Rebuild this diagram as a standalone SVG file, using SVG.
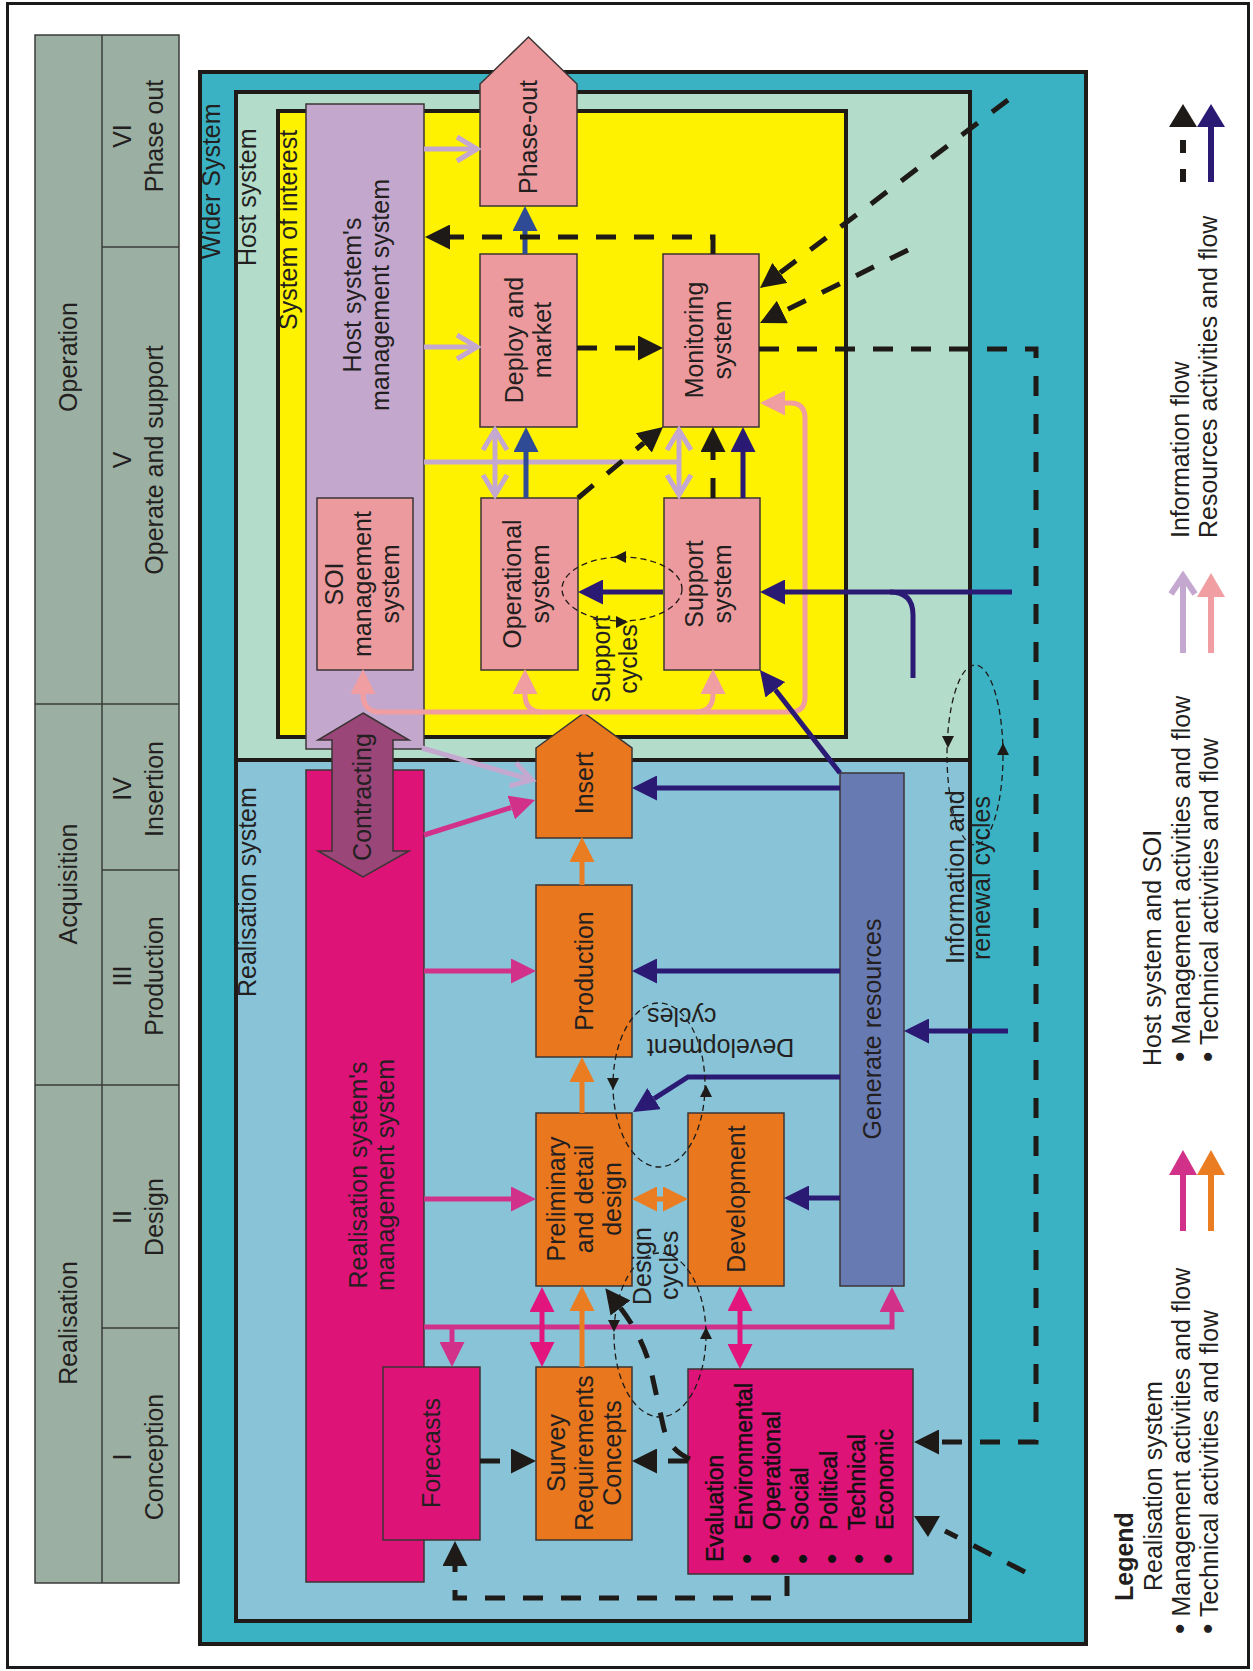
<svg xmlns="http://www.w3.org/2000/svg" width="1253" height="1671" viewBox="0 0 1253 1671">
<defs>
<style>
text{font-family:"Liberation Sans",Arial,sans-serif;font-size:25px;fill:#231f20}
.m{text-anchor:middle}
.e{text-anchor:end}
.b{font-weight:bold}
.ev{font-size:23px;fill:#111;stroke:#111;stroke-width:0.5}
.dot{font-size:30px;fill:#111}
.frame{stroke:#1e1a17;stroke-width:4}
.box{stroke:#3b3535;stroke-width:1.5}
.pk{fill:#ec9a9d}
.or{fill:#e8771e}
.mg{fill:#de1378}
.cell{fill:none;stroke:#3b3b3b;stroke-width:1.5}
.lav{stroke:#c4a8d0;stroke-width:5;fill:none}
.sal{stroke:#f09ea1;stroke-width:5;fill:none}
.blu{stroke:#2f4b95;stroke-width:5;fill:none}
.nav{stroke:#2a1a74;stroke-width:5;fill:none}
.inf{stroke:#1e1a17;stroke-width:5;stroke-dasharray:20 18;fill:none}
.mgt{stroke:#d2318a;stroke-width:5;fill:none}
.mg2{stroke:#e2157c;stroke-width:5;fill:none}
.tec{stroke:#ea7c22;stroke-width:5;fill:none}
.cyc{stroke:#1e1a17;stroke-width:1.3;stroke-dasharray:6 4;fill:none}
.tip{fill:#1e1a17}
</style>
<marker id="aNav" viewBox="0 0 25 25" refX="0" refY="12.5" markerWidth="25" markerHeight="25" markerUnits="userSpaceOnUse" orient="auto-start-reverse"><path d="M0,0L25,12.5L0,25z" fill="#2a1a74"/></marker>
<marker id="aBlu" viewBox="0 0 25 25" refX="0" refY="12.5" markerWidth="25" markerHeight="25" markerUnits="userSpaceOnUse" orient="auto-start-reverse"><path d="M0,0L25,12.5L0,25z" fill="#2f4b95"/></marker>
<marker id="aBlk" viewBox="0 0 25 25" refX="0" refY="12.5" markerWidth="25" markerHeight="25" markerUnits="userSpaceOnUse" orient="auto-start-reverse"><path d="M0,0L25,12.5L0,25z" fill="#1e1a17"/></marker>
<marker id="aMgt" viewBox="0 0 25 25" refX="0" refY="12.5" markerWidth="25" markerHeight="25" markerUnits="userSpaceOnUse" orient="auto-start-reverse"><path d="M0,0L25,12.5L0,25z" fill="#d2318a"/></marker>
<marker id="aMg2" viewBox="0 0 25 25" refX="0" refY="12.5" markerWidth="25" markerHeight="25" markerUnits="userSpaceOnUse" orient="auto-start-reverse"><path d="M0,0L25,12.5L0,25z" fill="#e2157c"/></marker>
<marker id="aTec" viewBox="0 0 25 25" refX="0" refY="12.5" markerWidth="25" markerHeight="25" markerUnits="userSpaceOnUse" orient="auto-start-reverse"><path d="M0,0L25,12.5L0,25z" fill="#ea7c22"/></marker>
<marker id="aSal" viewBox="0 0 25 25" refX="0" refY="12.5" markerWidth="25" markerHeight="25" markerUnits="userSpaceOnUse" orient="auto-start-reverse"><path d="M0,0L25,12.5L0,25z" fill="#f09ea1"/></marker>
<marker id="aLav" viewBox="0 0 24 26" refX="21" refY="13" markerWidth="24" markerHeight="26" markerUnits="userSpaceOnUse" orient="auto-start-reverse" overflow="visible"><path d="M1,1L21,13L1,25" fill="none" stroke="#c4a8d0" stroke-width="5"/></marker>
</defs>

<rect x="0" y="0" width="1253" height="1671" fill="#ffffff"/>
<rect x="7.5" y="3.5" width="1241" height="1664" fill="none" stroke="#1a1a1a" stroke-width="3"/>

<!-- life-cycle phase table -->
<g id="phase-table">
<rect x="35" y="35" width="144" height="1548" fill="#9bb0a2" stroke="#3b3b3b" stroke-width="1.5"/>
<path class="cell" d="M102,35V1583M35,704H179M35,1085H179M102,247H179M102,870H179M102,1328H179"/>
<text class="m" transform="translate(77,357) rotate(-90)">Operation</text>
<text class="m" transform="translate(77,884) rotate(-90)">Acquisition</text>
<text class="m" transform="translate(77,1323) rotate(-90)">Realisation</text>
<text class="m" transform="translate(131,136) rotate(-90)">VI</text>
<text class="m" transform="translate(163,136) rotate(-90)">Phase out</text>
<text class="m" transform="translate(131,460) rotate(-90)">V</text>
<text class="m" transform="translate(163,460) rotate(-90)">Operate and support</text>
<text class="m" transform="translate(131,789) rotate(-90)">IV</text>
<text class="m" transform="translate(163,789) rotate(-90)">Insertion</text>
<text class="m" transform="translate(131,976) rotate(-90)">III</text>
<text class="m" transform="translate(163,976) rotate(-90)">Production</text>
<text class="m" transform="translate(131,1217) rotate(-90)">II</text>
<text class="m" transform="translate(163,1217) rotate(-90)">Design</text>
<text class="m" transform="translate(131,1457) rotate(-90)">I</text>
<text class="m" transform="translate(163,1457) rotate(-90)">Conception</text>
</g>

<!-- nested system boundaries -->
<g id="wider-system">
<rect class="frame" x="200" y="72" width="886" height="1572" fill="#3ab2c4"/>
<text transform="translate(220,259) rotate(-90)">Wider System</text>
</g>
<g id="host-system">
<rect class="frame" x="236" y="92" width="734" height="668" fill="#b4dccb"/>
<text transform="translate(256,266) rotate(-90)">Host system</text>
</g>
<g id="realisation-system">
<rect class="frame" x="236" y="760" width="734" height="861" fill="#88c3d7"/>
<text transform="translate(256,997) rotate(-90)">Realisation system</text>
</g>
<g id="system-of-interest">
<rect class="frame" x="278" y="111" width="568" height="626" fill="#fff200"/>
<text transform="translate(297,330) rotate(-90)">System of interest</text>
</g>

<!-- host system nodes -->
<g id="host-mgmt">
<rect class="box" x="306" y="104" width="118" height="645" fill="#c3a7cd"/>
<text class="m" transform="translate(361,295) rotate(-90)">Host system's</text>
<text class="m" transform="translate(389,295) rotate(-90)">management system</text>
</g>
<g id="soi-mgmt">
<rect class="box pk" x="317" y="498" width="96" height="172"/>
<text class="m" transform="translate(343,584) rotate(-90)">SOI</text>
<text class="m" transform="translate(371,584) rotate(-90)">management</text>
<text class="m" transform="translate(399,584) rotate(-90)">system</text>
</g>
<g id="phase-out">
<polygon class="box pk" points="480,84 528.5,37 577,84 577,206 480,206"/>
<text class="m" transform="translate(537,137) rotate(-90)">Phase-out</text>
</g>
<g id="deploy">
<rect class="box pk" x="480" y="254" width="97" height="173"/>
<text class="m" transform="translate(523,340) rotate(-90)">Deploy and</text>
<text class="m" transform="translate(551,340) rotate(-90)">market</text>
</g>
<g id="monitoring">
<rect class="box pk" x="663" y="254" width="96" height="173"/>
<text class="m" transform="translate(703,340) rotate(-90)">Monitoring</text>
<text class="m" transform="translate(731,340) rotate(-90)">system</text>
</g>
<g id="operational">
<rect class="box pk" x="481" y="498" width="97" height="172"/>
<text class="m" transform="translate(521,584) rotate(-90)">Operational</text>
<text class="m" transform="translate(549,584) rotate(-90)">system</text>
</g>
<g id="support">
<rect class="box pk" x="664" y="498" width="96" height="172"/>
<text class="m" transform="translate(703,584) rotate(-90)">Support</text>
<text class="m" transform="translate(731,584) rotate(-90)">system</text>
</g>

<!-- realisation system nodes -->
<g id="realisation-mgmt">
<rect class="box mg" x="306" y="770" width="118" height="812"/>
<text class="m" transform="translate(367,1175) rotate(-90)">Realisation system's</text>
<text class="m" transform="translate(394,1175) rotate(-90)">management system</text>
</g>
<g id="contracting">
<polygon class="box" fill="#9a4679" points="363,713 409,740 393,740 393,851 409,851 363,877 318,851 332,851 332,740 318,740"/>
<text class="m" transform="translate(371,797) rotate(-90)">Contracting</text>
</g>
<g id="insert">
<polygon class="box or" points="536,748 584,713 632,748 632,838 536,838"/>
<text class="m" transform="translate(593,783) rotate(-90)">Insert</text>
</g>
<g id="production">
<rect class="box or" x="536" y="885" width="96" height="172"/>
<text class="m" transform="translate(593,971) rotate(-90)">Production</text>
</g>
<g id="preliminary-design">
<rect class="box or" x="536" y="1113" width="96" height="173"/>
<text class="m" transform="translate(565,1199) rotate(-90)">Preliminary</text>
<text class="m" transform="translate(593,1199) rotate(-90)">and detail</text>
<text class="m" transform="translate(621,1199) rotate(-90)">design</text>
</g>
<g id="development">
<rect class="box or" x="688" y="1113" width="96" height="173"/>
<text class="m" transform="translate(745,1199) rotate(-90)">Development</text>
</g>
<g id="generate-resources">
<rect class="box" fill="#677ab2" x="840" y="773" width="64" height="513"/>
<text class="m" transform="translate(881,1029) rotate(-90)">Generate resources</text>
</g>
<g id="forecasts">
<rect class="box mg" x="383" y="1367" width="97" height="173"/>
<text class="m" transform="translate(440,1453) rotate(-90)">Forecasts</text>
</g>
<g id="survey">
<rect class="box or" x="536" y="1367" width="96" height="173"/>
<text class="m" transform="translate(565,1453) rotate(-90)">Survey</text>
<text class="m" transform="translate(593,1453) rotate(-90)">Requirements</text>
<text class="m" transform="translate(621,1453) rotate(-90)">Concepts</text>
</g>
<g id="evaluation">
<rect class="box mg" x="688" y="1369" width="225" height="205"/>
<text class="ev" transform="translate(723,1562) rotate(-90)">Evaluation</text>
<text class="ev" transform="translate(751.5,1530) rotate(-90)">Environmental</text>
<text class="ev" transform="translate(780,1530) rotate(-90)">Operational</text>
<text class="ev" transform="translate(808,1530) rotate(-90)">Social</text>
<text class="ev" transform="translate(836.5,1530) rotate(-90)">Political</text>
<text class="ev" transform="translate(865,1530) rotate(-90)">Technical</text>
<text class="ev" transform="translate(893,1530) rotate(-90)">Economic</text>
<text class="dot" transform="translate(757,1564) rotate(-90)">•</text>
<text class="dot" transform="translate(785,1564) rotate(-90)">•</text>
<text class="dot" transform="translate(813,1564) rotate(-90)">•</text>
<text class="dot" transform="translate(842,1564) rotate(-90)">•</text>
<text class="dot" transform="translate(869,1564) rotate(-90)">•</text>
<text class="dot" transform="translate(898,1564) rotate(-90)">•</text>
</g>

<!-- flows between the nodes -->
<g id="connectors">
<!-- host system management (lavender, open heads) -->
<path class="lav" marker-end="url(#aLav)" d="M424,149H477"/>
<path class="lav" marker-end="url(#aLav)" d="M424,347H477"/>
<path class="lav" d="M424,462H681"/>
<path class="lav" marker-start="url(#aLav)" marker-end="url(#aLav)" d="M495,430V495"/>
<path class="lav" marker-start="url(#aLav)" marker-end="url(#aLav)" d="M679,430V495"/>
<path class="lav" marker-end="url(#aLav)" d="M422,748L532,780"/>
<!-- host technical flow (salmon) -->
<path class="sal" marker-start="url(#aSal)" marker-end="url(#aSal)" d="M363,694Q363,712 380,712H790Q805,712 805,697V418Q805,403 790,403H785"/>
<path class="sal" marker-start="url(#aSal)" d="M525,694Q525,712 542,712"/>
<path class="sal" marker-start="url(#aSal)" d="M713,694Q713,712 696,712"/>
<!-- resources -->
<path class="blu" marker-end="url(#aBlu)" d="M525,254V231"/>
<path class="blu" marker-end="url(#aBlu)" d="M526,498V452"/>
<path class="nav" marker-end="url(#aNav)" d="M743,498V452"/>
<path class="nav" marker-end="url(#aNav)" d="M1012,592H785"/>
<path class="nav" d="M890,592Q913,592 913,615V678"/>
<path class="nav" marker-end="url(#aNav)" d="M663,592H603"/>
<path class="nav" marker-end="url(#aNav)" d="M840,773L775.3,689.8"/>
<path class="nav" marker-end="url(#aNav)" d="M840,788H657"/>
<path class="nav" marker-end="url(#aNav)" d="M840,971H657"/>
<path class="nav" marker-end="url(#aNav)" d="M840,1077H688L654.1,1098.6"/>
<path class="nav" marker-end="url(#aNav)" d="M840,1198H809"/>
<path class="nav" marker-end="url(#aNav)" d="M1008,1031H929"/>
<!-- information flow -->
<path class="inf" marker-end="url(#aBlk)" d="M713,254V237H450"/>
<path class="inf" marker-end="url(#aBlk)" d="M577,348H638"/>
<path class="inf" marker-end="url(#aBlk)" d="M1008,100L779.9,272.9"/>
<path class="inf" marker-end="url(#aBlk)" d="M908,250L782.4,312"/>
<path class="inf" marker-end="url(#aBlk)" d="M759,349H1036V1442H939"/>
<path class="inf" marker-end="url(#aBlk)" d="M713,498V452"/>
<path class="inf" marker-end="url(#aBlk)" d="M578,498L643.8,443"/>
<path class="inf" marker-end="url(#aBlk)" d="M480,1461H511"/>
<path class="inf" marker-end="url(#aBlk)" d="M688,1461H657"/>
<path class="inf" marker-end="url(#aBlk)" d="M690,1459Q668,1450 663,1425L652,1375Q645,1340 620.5,1308"/>
<path class="inf" marker-end="url(#aBlk)" d="M787,1576V1598H455V1566"/>
<path class="inf" d="M1025,1572L945,1531"/>
<polygon class="tip" points="914,1516 940,1516 928,1537"/>
<!-- realisation management flow (magenta) -->
<path class="mgt" marker-end="url(#aMgt)" d="M424,835L511.2,807.5"/>
<path class="mgt" marker-end="url(#aMgt)" d="M424,971H511"/>
<path class="mgt" marker-end="url(#aMgt)" d="M424,1199H511"/>
<path class="mgt" marker-end="url(#aMgt)" d="M424,1327H892V1312"/>
<path class="mgt" marker-end="url(#aMgt)" d="M452,1327V1342"/>
<path class="mg2" marker-start="url(#aMg2)" marker-end="url(#aMg2)" d="M542,1312V1342"/>
<path class="mg2" marker-start="url(#aMg2)" marker-end="url(#aMg2)" d="M740,1311V1344"/>
<!-- realisation technical flow (orange) -->
<path class="tec" marker-end="url(#aTec)" d="M582,885V862"/>
<path class="tec" marker-end="url(#aTec)" d="M582,1113V1082"/>
<path class="tec" marker-end="url(#aTec)" d="M582,1367V1311"/>
<path class="tec" marker-start="url(#aTec)" marker-end="url(#aTec)" d="M657,1199H663"/>
</g>

<!-- iteration cycles -->
<g id="support-cycles">
<ellipse class="cyc" cx="622" cy="589" rx="60" ry="32"/>
<polygon class="tip" points="614,557 626,551 626,563"/>
<polygon class="tip" points="628,622 616,616 616,628"/>
<text class="m" transform="translate(610,659) rotate(-90)">Support</text>
<text class="m" transform="translate(637,659) rotate(-90)">cycles</text>
</g>
<g id="development-cycles">
<ellipse class="cyc" cx="659" cy="1085" rx="46" ry="82"/>
<polygon class="tip" points="607,1078 619,1078 613,1090"/>
<polygon class="tip" points="700,1097 712,1097 706,1085"/>
<text class="e" transform="translate(647,1039) rotate(180)">Development</text>
<text class="e" transform="translate(647,1008) rotate(180)">cycles</text>
</g>
<g id="design-cycles">
<ellipse class="cyc" cx="660" cy="1335" rx="46" ry="82"/>
<polygon class="tip" points="608,1320 620,1320 614,1332"/>
<polygon class="tip" points="700,1339 712,1339 706,1327"/>
<text transform="translate(651,1305) rotate(-90)">Design</text>
<text transform="translate(678,1300) rotate(-90)">cycles</text>
</g>
<g id="renewal-cycles">
<ellipse class="cyc" cx="975" cy="755" rx="28" ry="90"/>
<polygon class="tip" points="942,736 954,736 948,748"/>
<polygon class="tip" points="997,755 1009,755 1003,743"/>
<text transform="translate(964,964) rotate(-90)">Information and</text>
<text transform="translate(990,960) rotate(-90)">renewal cycles</text>
</g>

<!-- legend -->
<g id="legend">
<path d="M1183,182V127" stroke="#1e1a17" stroke-width="6" stroke-dasharray="13 16"/>
<polygon class="tip" points="1183,104 1197,127 1169,127"/>
<path d="M1211,182V126" stroke="#2a1a74" stroke-width="6"/>
<polygon fill="#2a1a74" points="1211,104 1225,127 1197,127"/>
<path d="M1183,653V576M1171,594L1183,576L1195,594" stroke="#c4a8d0" stroke-width="6" fill="none"/>
<path d="M1211,653V596" stroke="#f09ea1" stroke-width="6"/>
<polygon fill="#f09ea1" points="1211,573 1225,597 1197,597"/>
<path d="M1183,1231V1174" stroke="#d2318a" stroke-width="6"/>
<polygon fill="#d2318a" points="1183,1150 1197,1175 1169,1175"/>
<path d="M1211,1231V1174" stroke="#ea7c22" stroke-width="6"/>
<polygon fill="#ea7c22" points="1211,1150 1225,1175 1197,1175"/>
<text transform="translate(1189,538) rotate(-90)">Information flow</text>
<text transform="translate(1217,538) rotate(-90)">Resources activities and flow</text>
<text transform="translate(1161,1066) rotate(-90)">Host system and SOI</text>
<text transform="translate(1190,1062) rotate(-90)"><tspan font-size="30">•</tspan> Management activities and flow</text>
<text transform="translate(1218,1062) rotate(-90)"><tspan font-size="30">•</tspan> Technical activities and flow</text>
<text class="b" transform="translate(1133,1601) rotate(-90)">Legend</text>
<text transform="translate(1162,1591) rotate(-90)">Realisation system</text>
<text transform="translate(1190,1634) rotate(-90)"><tspan font-size="30">•</tspan> Management activities and flow</text>
<text transform="translate(1218,1634) rotate(-90)"><tspan font-size="30">•</tspan> Technical activities and flow</text>
</g>
</svg>
